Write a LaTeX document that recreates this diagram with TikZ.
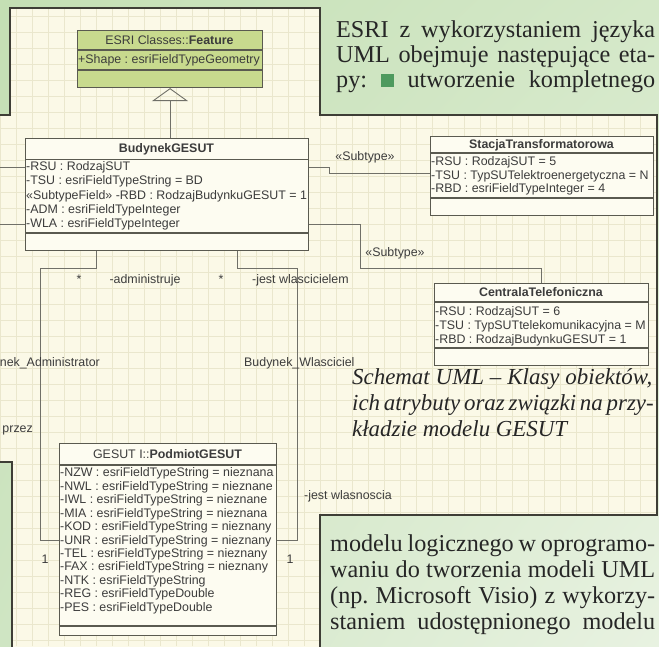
\documentclass[tikz,border=0pt]{standalone}
\usepackage{fontspec}
\setmainfont{Liberation Serif}
\setsansfont{Liberation Sans}
\usetikzlibrary{arrows.meta,shadings}
\frenchspacing

\definecolor{pageA}{HTML}{C4DFB4}
\definecolor{pageB}{HTML}{D4E8C8}
\definecolor{pageC}{HTML}{CFE5C3}
\definecolor{pageD}{HTML}{E8F2E1}
\definecolor{panel}{HTML}{FBF9E7}
\definecolor{gridcol}{HTML}{EAE7CD}
\definecolor{panelline}{HTML}{3E3E36}
\definecolor{boxline}{HTML}{5A5A50}
\definecolor{boxfill}{HTML}{FDFCF1}
\definecolor{featfill}{HTML}{C8DA8E}
\definecolor{linkgray}{HTML}{707068}
\definecolor{umltext}{HTML}{3C3C3C}
\definecolor{sqgreen}{HTML}{4E9A5E}
\definecolor{inktext}{HTML}{262626}

\newcommand{\umlfont}{\sffamily\fontsize{12.4}{14}\selectfont}
\newcommand{\bodyfont}{\rmfamily\fontsize{24.2}{26}\selectfont}
\newcommand{\capfont}{\rmfamily\itshape\fontsize{22.9}{26}\selectfont}
\newcommand{\panelshape}{(10,8) -- (320,8) -- (320,115) -- (657,115) -- (657,515) -- (320,515) -- (320,650) -- (12,650) -- (12,462) -- (-5,462) -- (-5,115) -- (10,115) -- cycle}

\tikzset{
  umlbox/.style={draw=boxline, fill=boxfill, line width=1.1pt, inner sep=0pt, anchor=north west},
  boxsep/.style={draw=boxline, line width=1.1pt},
  umltitle/.style={font=\umlfont, text=umltext, inner sep=1pt},
  umlattr/.style={font=\umlfont, text=umltext, anchor=west, inner sep=1pt},
  link/.style={draw=linkgray, line width=0.8pt},
  linklabel/.style={font=\umlfont, text=umltext, inner sep=1pt},
  bodytext/.style={font=\bodyfont, text=inktext, anchor=base west, inner sep=0pt},
  captext/.style={font=\capfont, text=inktext, anchor=base west, inner sep=0pt}
}

\begin{document}
\begin{tikzpicture}[x=1pt,y=-1pt]
  \useasboundingbox (0,0) rectangle (659,646);
  \clip (0,0) rectangle (659,646);
  % page and panel
  \shade[upper left=pageA, upper right=pageB, lower left=pageC, lower right=pageD] (0,0) rectangle (659,646);
  \fill[panel] \panelshape;
  \begin{scope}
    \clip \panelshape;
    \draw[gridcol, line width=0.6pt] (0,0) grid[step=16pt] (659,646);
  \end{scope}
  \draw[panelline, line width=1.2pt] \panelshape;

  % text on the page
  \node[bodytext] (txt1) at (336,37) {\makebox[319pt][s]{ESRI z wykorzystaniem języka}};
  \node[bodytext] (txt2) at (336,62) {\makebox[319pt][s]{UML obejmuje następujące eta-}};
  \node[bodytext] (txt3) at (336,87) {\makebox[319pt][s]{py: \textcolor{sqgreen}{\rule{13pt}{13pt}} utworzenie kompletnego}};
  \node[bodytext] (txt4) at (330,551) {\makebox[325pt][s]{modelu logicznego w oprogramo-}};
  \node[bodytext] (txt5) at (330,577) {\makebox[325pt][s]{waniu do tworzenia modeli UML}};
  \node[bodytext] (txt6) at (330,603) {\makebox[325pt][s]{(np. Microsoft Visio) z wykorzy-}};
  \node[bodytext] (txt7) at (330,629) {\makebox[325pt][s]{staniem udostępnionego modelu}};

  % caption
  \node[captext] (cap1) at (352,384) {\makebox[300pt][s]{Schemat UML – Klasy obiektów,}};
  \node[captext] (cap2) at (352,410) {\makebox[300pt][s]{ich atrybuty oraz związki na przy-}};
  \node[captext] (cap3) at (352,436) {kładzie modelu GESUT};

  % connectors
  \coordinate (sub1a) at (329,167);
  \coordinate (sub1b) at (329,173);
  \coordinate (sub2a) at (360,268);
  \coordinate (adm1) at (96,268);
  \coordinate (adm2) at (40,540);
  \coordinate (own1) at (237,268);
  \coordinate (own2) at (297,540);
  \coordinate (offl1) at (-5,167);
  \coordinate (offl2) at (-5,224);

  % ESRI Classes::Feature
  \node[umlbox, fill=featfill, minimum width=185pt, minimum height=57pt] (feature) at (77,30) {};
  \draw[boxsep] (77,50) -- (262,50);
  \draw[boxsep] (77,70) -- (262,70);
  \node[umltitle] (feature-title) at (169.5,40) {ESRI Classes::\textbf{Feature}};
  \node[umlattr] (feature-shape) at (77,60) {+Shape : esriFieldTypeGeometry};

  % BudynekGESUT
  \node[umlbox, minimum width=283pt, minimum height=112pt] (bud) at (25,138) {};
  \draw[boxsep] (25,159.5) -- (308,159.5);
  \draw[boxsep] (25,233) -- (308,233);
  \node[umltitle] (bud-title) at (166.5,149) {\textbf{BudynekGESUT}};
  \node[umlattr] (bud-rsu) at (25,167) {-RSU : RodzajSUT};
  \node[umlattr] (bud-tsu) at (25,181.5) {-TSU : esriFieldTypeString = BD};
  \node[umlattr] (bud-rbd) at (25,196) {«SubtypeField» -RBD : RodzajBudynkuGESUT = 1};
  \node[umlattr] (bud-adm) at (25,210.5) {-ADM : esriFieldTypeInteger};
  \node[umlattr] (bud-wla) at (25,224.5) {-WLA : esriFieldTypeInteger};

  % StacjaTransformatorowa
  \node[umlbox, minimum width=223pt, minimum height=79pt] (stacja) at (430,136) {};
  \draw[boxsep] (430,153) -- (653,153);
  \draw[boxsep] (430,198) -- (653,198);
  \node[umltitle] (stacja-title) at (541.5,145) {\textbf{StacjaTransformatorowa}};
  \node[umlattr] (stacja-rsu) at (430,162) {-RSU : RodzajSUT = 5};
  \node[umlattr] (stacja-tsu) at (430,176) {-TSU : TypSUTelektroenergetyczna = N};
  \node[umlattr] (stacja-rbd) at (430,189) {-RBD : esriFieldTypeInteger = 4};

  % CentralaTelefoniczna
  \node[umlbox, minimum width=214pt, minimum height=82pt] (centrala) at (434,283) {};
  \draw[boxsep] (434,302) -- (648,302);
  \draw[boxsep] (434,348) -- (648,348);
  \node[umltitle] (centrala-title) at (541,292) {\textbf{CentralaTelefoniczna}};
  \node[umlattr] (centrala-rsu) at (434,312) {-RSU : RodzajSUT = 6};
  \node[umlattr] (centrala-tsu) at (434,326) {-TSU : TypSUTtelekomunikacyjna = M};
  \node[umlattr] (centrala-rbd) at (434,340) {-RBD : RodzajBudynkuGESUT = 1};

  % GESUT I::PodmiotGESUT
  \node[umlbox, minimum width=217pt, minimum height=192pt] (podmiot) at (59,443) {};
  \draw[boxsep] (59,465) -- (276,465);
  \draw[boxsep] (59,626) -- (276,626);
  \node[umltitle] (podmiot-title) at (167.5,454) {GESUT I::\textbf{PodmiotGESUT}};
  \node[umlattr] (podmiot-nzw) at (59,473.5) {-NZW : esriFieldTypeString = nieznana};
  \node[umlattr] (podmiot-nwl) at (59,487) {-NWL : esriFieldTypeString = nieznane};
  \node[umlattr] (podmiot-iwl) at (59,500.4) {-IWL : esriFieldTypeString = nieznane};
  \node[umlattr] (podmiot-mia) at (59,513.9) {-MIA : esriFieldTypeString = nieznana};
  \node[umlattr] (podmiot-kod) at (59,527.3) {-KOD : esriFieldTypeString = nieznany};
  \node[umlattr] (podmiot-unr) at (59,540.8) {-UNR : esriFieldTypeString = nieznany};
  \node[umlattr] (podmiot-tel) at (59,554.2) {-TEL : esriFieldTypeString = nieznany};
  \node[umlattr] (podmiot-fax) at (59,567.7) {-FAX : esriFieldTypeString = nieznany};
  \node[umlattr] (podmiot-ntk) at (59,581.1) {-NTK : esriFieldTypeString};
  \node[umlattr] (podmiot-reg) at (59,594.6) {-REG : esriFieldTypeDouble};
  \node[umlattr] (podmiot-pes) at (59,608) {-PES : esriFieldTypeDouble};

  % links
  \draw[link, line width=0.9pt, -{Triangle[open, length=13pt, width=36pt]}] (feature.south |- bud.north) -- (feature.south);
  \draw[link] (bud.east |- bud-rsu) -- (sub1a) -- (sub1b) -- (stacja.west |- sub1b);
  \draw[link] (bud.east |- bud-wla) -| (sub2a) -| (centrala.north);
  \draw[link] (bud.south -| adm1) -- (adm1) -| (adm2) -- (podmiot.west |- adm2);
  \draw[link] (bud.south -| own1) -- (own1) -| (own2) -- (podmiot.east |- own2);
  \draw[link] (bud.west |- bud-rsu) -- (offl1);
  \draw[link] (bud.west |- offl2) -- (offl2);

  % link labels
  \node[linklabel] (sub1-label) at (365,157) {«Subtype»};
  \node[linklabel] (sub2-label) at (395,253) {«Subtype»};
  \node[linklabel] (adm-mult) at (79,279) {*};
  \node[linklabel] (adm-role) at (145,280) {-administruje};
  \node[linklabel] (own-mult) at (221,279) {*};
  \node[linklabel, anchor=west] (own-role) at (251,280) {-jest wlascicielem};
  \node[linklabel, anchor=east] (adm-name) at (101,363) {Budynek\_Administrator};
  \node[linklabel, anchor=west] (own-name) at (243,363) {Budynek\_Wlasciciel};
  \node[linklabel, anchor=east] (adm-back) at (34,430) {przez};
  \node[linklabel] (adm-one) at (45,559) {1};
  \node[linklabel] (own-one) at (290,559) {1};
  \node[linklabel, anchor=west] (own-back) at (303,496) {-jest wlasnoscia};
\end{tikzpicture}
\end{document}
